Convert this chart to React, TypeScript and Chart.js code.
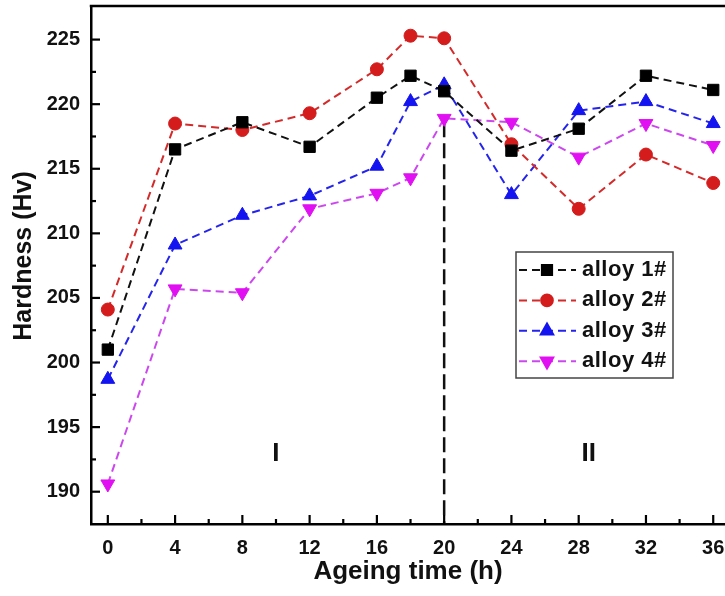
import React, { useEffect, useRef } from "react";
import { Chart, registerables } from "chart.js";
import { drawPoint } from "chart.js/helpers";

Chart.register(...registerables);

// ---------- data ----------
const ageingTimes = [0, 4, 8, 12, 16, 18, 20, 24, 28, 32, 36];
const alloy1 = [201.0, 216.5, 218.6, 216.7, 220.5, 222.2, 221.0, 216.4, 218.1, 222.2, 221.1];
const alloy2 = [204.1, 218.5, 218.0, 219.3, 222.7, 225.3, 225.1, 216.9, 211.9, 216.1, 213.9];
const alloy3 = [198.7, 209.1, 211.4, 212.9, 215.2, 220.2, 221.5, 213.0, 219.5, 220.2, 218.5];
const alloy4 = [190.6, 205.7, 205.4, 211.9, 213.1, 214.3, 218.9, 218.6, 215.9, 218.5, 216.8];

const seriesLabels = ["alloy 1#", "alloy 2#", "alloy 3#", "alloy 4#"];
const seriesValues = [alloy1, alloy2, alloy3, alloy4];

const xTickValues = [0, 4, 8, 12, 16, 20, 24, 28, 32, 36];
const xMinorValues = [2, 6, 10, 14, 18, 22, 26, 30, 34];
const yTickValues = [190, 195, 200, 205, 210, 215, 220, 225];
const yMinorValues = [192.5, 197.5, 202.5, 207.5, 212.5, 217.5, 222.5];

const xMin = -1;
const xMax = 36.7;
const yMin = 187.5;
const yMax = 227.6;

const dividerX = 20;
const dividerTop = 218.6;

const regionLabels = ["I", "II"];
const regionX = [10, 28.6];
const regionY = 192.9;

const xTitle = "Ageing time (h)";
const yTitle = "Hardness (Hv)";

// ---------- styles ----------
const FONT = '"Liberation Sans", Arial, Helvetica, sans-serif';
const markerColors = ["#000000", "#d41c1c", "#1414f0", "#e010f2"];
const lineColors = ["#111111", "#d42a2a", "#2424ee", "#cc48ee"];
const pointStyles = ["rect", "circle", "triangle", "triangle"];
const pointRadii = [8, 6.5, 8, 8];
const pointRotations = [0, 0, 0, 180];

const zeroPad = (s: any) => {
  s.paddingTop = 0;
  s.paddingBottom = 0;
  s.paddingLeft = 0;
  s.paddingRight = 0;
};

const decorPlugin = {
  id: "decor",
  afterDraw(chart: any) {
    const ctx = chart.ctx as CanvasRenderingContext2D;
    const { left, right, top, bottom } = chart.chartArea;
    const xs = chart.scales.x;
    const ys = chart.scales.y;
    ctx.save();
    // top frame line
    ctx.strokeStyle = "#000";
    ctx.lineWidth = 2.5;
    ctx.beginPath();
    ctx.moveTo(left - 1.25, top);
    ctx.lineTo(right, top);
    ctx.stroke();

    // inward ticks
    ctx.lineWidth = 2.2;
    const tickX = (v: number, len: number) => {
      const px = xs.getPixelForValue(v);
      ctx.beginPath();
      ctx.moveTo(px, bottom);
      ctx.lineTo(px, bottom - len);
      ctx.stroke();
    };
    const tickY = (v: number, len: number) => {
      const py = ys.getPixelForValue(v);
      ctx.beginPath();
      ctx.moveTo(left, py);
      ctx.lineTo(left + len, py);
      ctx.stroke();
    };
    xTickValues.forEach((v) => tickX(v, 9));
    xMinorValues.forEach((v) => tickX(v, 5));
    yTickValues.forEach((v) => tickY(v, 9));
    yMinorValues.forEach((v) => tickY(v, 5));

    // region labels
    ctx.fillStyle = "#111";
    ctx.font = `bold 26px ${FONT}`;
    ctx.textAlign = "center";
    ctx.textBaseline = "middle";
    regionLabels.forEach((t, i) => {
      ctx.fillText(t, xs.getPixelForValue(regionX[i]), ys.getPixelForValue(regionY));
    });

    // y title
    ctx.save();
    ctx.translate(24.5, 256);
    ctx.rotate(-Math.PI / 2);
    ctx.font = `bold 25px ${FONT}`;
    ctx.fillStyle = "#111";
    ctx.textAlign = "center";
    ctx.textBaseline = "middle";
    ctx.fillText(yTitle, 0, 0);
    ctx.restore();

    // legend
    const lx = right - 209;
    const ly = 252;
    const lw = 157;
    const lh = 126;
    ctx.fillStyle = "#fff";
    ctx.fillRect(lx, ly, lw, lh);
    ctx.strokeStyle = "#444";
    ctx.lineWidth = 1.5;
    ctx.strokeRect(lx, ly, lw, lh);
    seriesLabels.forEach((label, i) => {
      const cy = ly + 18 + i * 30.4;
      ctx.strokeStyle = lineColors[i];
      ctx.lineWidth = 2;
      ctx.setLineDash([8, 5]);
      ctx.beginPath();
      ctx.moveTo(lx + 3, cy);
      ctx.lineTo(lx + 60, cy);
      ctx.stroke();
      ctx.setLineDash([]);
      ctx.fillStyle = markerColors[i];
      ctx.strokeStyle = markerColors[i];
      drawPoint(
        ctx,
        {
          pointStyle: pointStyles[i],
          radius: pointRadii[i] * 0.9,
          rotation: pointRotations[i],
          borderWidth: 1,
        } as any,
        lx + 31,
        cy
      );
      ctx.fillStyle = "#111";
      ctx.font = `bold 22px ${FONT}`;
      (ctx as any).letterSpacing = "0.5px";
      ctx.textAlign = "left";
      ctx.textBaseline = "middle";
      ctx.fillText(label, lx + 66, cy);
      (ctx as any).letterSpacing = "0px";
    });
    ctx.restore();
  },
};

export default function App() {
  const canvasRef = useRef<HTMLCanvasElement | null>(null);

  useEffect(() => {
    if (!canvasRef.current) return;
    Chart.defaults.font.family = FONT;

    const datasets: any[] = seriesLabels.map((label, i) => ({
      label,
      data: ageingTimes.map((t, j) => ({ x: t, y: seriesValues[i][j] })),
      borderColor: lineColors[i],
      backgroundColor: markerColors[i],
      pointBackgroundColor: markerColors[i],
      pointBorderColor: markerColors[i],
      pointBorderWidth: 1,
      borderWidth: 2,
      borderDash: [8, 5],
      pointStyle: pointStyles[i],
      pointRadius: pointRadii[i],
      pointRotation: pointRotations[i],
      tension: 0,
      fill: false,
    }));
    datasets.push({
      label: "divider",
      data: [
        { x: dividerX, y: dividerTop },
        { x: dividerX, y: yMin },
      ],
      borderColor: "#111",
      borderWidth: 2.5,
      borderDash: [15, 6],
      pointRadius: 0,
      fill: false,
    });

    const chart = new Chart(canvasRef.current, {
      type: "line",
      data: { datasets },
      options: {
        animation: false,
        responsive: false,
        maintainAspectRatio: false,
        layout: { autoPadding: false, padding: { top: 6, right: 0, left: 0, bottom: 0 } },
        plugins: {
          legend: { display: false },
          tooltip: { enabled: false },
        },
        scales: {
          x: {
            type: "linear",
            min: xMin,
            max: xMax,
            afterBuildTicks: (s: any) => {
              s.ticks = xTickValues.map((v) => ({ value: v }));
            },
            afterFit: (s: any) => {
              s.height = 72;
              zeroPad(s);
            },
            ticks: {
              autoSkip: false,
              maxRotation: 0,
              padding: 12,
              color: "#111",
              font: { size: 20, weight: "bold" },
              callback: (v: any) => String(v),
            },
            grid: { display: false, drawTicks: false },
            border: { display: true, color: "#000", width: 2.5 },
            title: {
              display: true,
              text: xTitle,
              color: "#111",
              font: { size: 26, weight: "bold" },
              padding: { top: 0, bottom: 9 },
            },
          },
          y: {
            type: "linear",
            min: yMin,
            max: yMax,
            afterBuildTicks: (s: any) => {
              s.ticks = yTickValues.map((v) => ({ value: v }));
            },
            afterFit: (s: any) => {
              s.width = 91;
              zeroPad(s);
            },
            ticks: {
              padding: 11,
              color: "#111",
              font: { size: 20, weight: "bold" },
              callback: (v: any) => String(v),
            },
            grid: { display: false, drawTicks: false },
            border: { display: true, color: "#000", width: 2.5 },
            title: { display: false },
          },
        },
      },
      plugins: [decorPlugin],
    } as any);

    return () => chart.destroy();
  }, []);

  return (
    <div
      style={{
        position: "fixed",
        left: 0,
        top: 0,
        width: 725,
        height: 596,
        overflow: "hidden",
        background: "#fff",
      }}
    >
      <canvas ref={canvasRef} width={725} height={596} style={{ display: "block" }} />
    </div>
  );
}
